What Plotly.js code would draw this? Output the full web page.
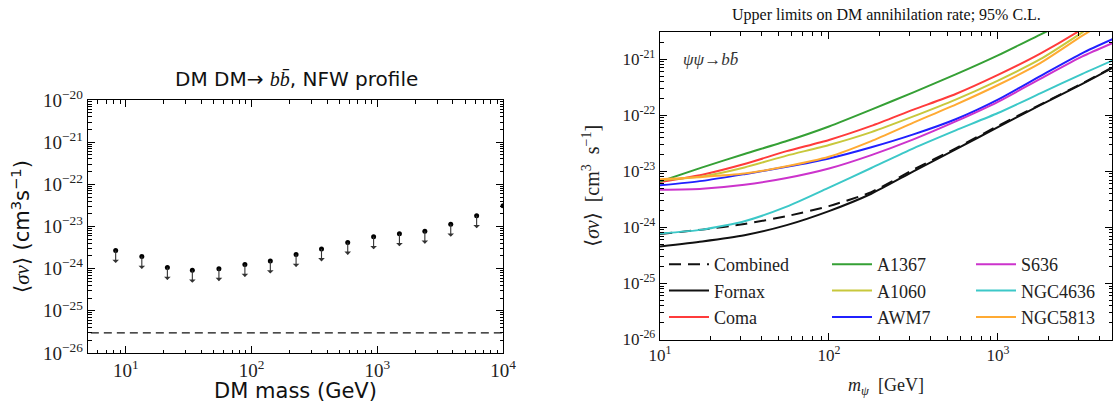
<!DOCTYPE html>
<html>
<head>
<meta charset="utf-8">
<script src="https://cdn.plot.ly/plotly-3.0.1.min.js"></script>
<style>html,body{margin:0;padding:0;background:#fff;}#chart{width:1116px;height:403px;}</style>
</head>
<body>
<div id="chart"></div>
<script>
// ---------- Left panel: upper limits (NFW profile) ----------
const leftMass = [8.3, 13.4, 21.4, 33.8, 55, 88.5, 141, 226, 360, 582, 935, 1500, 2390, 3840, 6170, 10000];
const leftLimit = [2.7e-24, 1.95e-24, 1.06e-24, 9.2e-25, 1.0e-24, 1.25e-24, 1.52e-24, 2.16e-24, 2.94e-24, 4.2e-24, 5.7e-24, 6.7e-24, 7.7e-24, 1.13e-23, 1.79e-23, 3.1e-23];
const thermalRate = 3e-26;
const leftXTicks = [10, 100, 1000, 10000];
const leftXTickText = ['10<sup>1</sup>', '10<sup>2</sup>', '10<sup>3</sup>', '10<sup>4</sup>'];
const leftYTicks = [1e-26, 1e-25, 1e-24, 1e-23, 1e-22, 1e-21, 1e-20];
const leftYTickText = ['10<sup>−26</sup>', '10<sup>−25</sup>', '10<sup>−24</sup>', '10<sup>−23</sup>', '10<sup>−22</sup>', '10<sup>−21</sup>', '10<sup>−20</sup>'];

// ---------- Right panel: per-cluster limits (log10 of <sigma v>) ----------
const mass = [10, 17.8, 31.6, 56.2, 100, 178, 316, 562, 1000, 1780, 3160, 4790];
const logCombined = [-24.12, -24.04, -23.94, -23.80, -23.62, -23.37, -22.97, -22.59, -22.19, -21.81, -21.43, -21.14];
const logFornax   = [-24.34, -24.25, -24.14, -23.96, -23.71, -23.40, -23.00, -22.61, -22.21, -21.82, -21.44, -21.15];
const logComa     = [-23.19, -23.06, -22.87, -22.64, -22.44, -22.19, -21.90, -21.62, -21.28, -20.90, -20.46, -20.10];
const logA1367    = [-23.18, -22.93, -22.69, -22.46, -22.20, -21.90, -21.59, -21.27, -20.93, -20.56, -20.20, -19.95];
const logA1060    = [-23.16, -23.09, -22.93, -22.72, -22.53, -22.30, -22.02, -21.72, -21.38, -21.00, -20.52, -20.15];
const logAWM7     = [-23.25, -23.17, -23.05, -22.92, -22.77, -22.57, -22.34, -22.07, -21.72, -21.30, -20.89, -20.64];
const logS636     = [-23.33, -23.31, -23.24, -23.12, -22.95, -22.71, -22.43, -22.11, -21.76, -21.35, -20.95, -20.71];
const logNGC4636  = [-24.11, -24.04, -23.89, -23.63, -23.29, -22.94, -22.59, -22.27, -21.96, -21.61, -21.26, -21.02];
const logNGC5813  = [-23.14, -23.10, -23.04, -22.91, -22.74, -22.46, -22.13, -21.81, -21.46, -21.07, -20.58, -20.25];
const seriesNames = ['Combined', 'Fornax', 'Coma', 'A1367', 'A1060', 'AWM7', 'S636', 'NGC4636', 'NGC5813'];
const rightXTicks = [10, 100, 1000];
const rightXTickText = ['10<sup>1</sup>', '10<sup>2</sup>', '10<sup>3</sup>'];
const rightYTicks = [1e-26, 1e-25, 1e-24, 1e-23, 1e-22, 1e-21];
const rightYTickText = ['10<sup>-26</sup>', '10<sup>-25</sup>', '10<sup>-24</sup>', '10<sup>-23</sup>', '10<sup>-22</sup>', '10<sup>-21</sup>'];

const W = 1116, H = 403;
const px = v => v / W;
const py = v => 1 - v / H;
const serif = '"Liberation Serif", "DejaVu Serif", serif';
const sans = '"DejaVu Sans", sans-serif';
const toLin = arr => arr.map(v => Math.pow(10, v));

function minorVals(lo, hi) {
  const out = [];
  for (let e = lo; e < hi; e++) for (let k = 2; k <= 9; k++) out.push(k * Math.pow(10, e));
  return out;
}

const traces = [];
// Left panel
traces.push({
  x: [leftMass[0] / 2, leftMass[leftMass.length - 1] * 2], y: [thermalRate, thermalRate],
  xaxis: 'x', yaxis: 'y', mode: 'lines', showlegend: false, hoverinfo: 'skip',
  line: {color: '#111', width: 1.3, dash: '8px,5px'}
});
traces.push({
  x: leftMass, y: leftLimit, xaxis: 'x', yaxis: 'y', mode: 'markers', showlegend: false,
  marker: {color: '#000', size: 5, symbol: 'circle'}
});

// Right panel
const seriesData = [logCombined, logFornax, logComa, logA1367, logA1060, logAWM7, logS636, logNGC4636, logNGC5813];
const seriesColors = ['#111111', '#111111', '#ff3b3b', '#35a035', '#c8c83c', '#2020ff', '#cc33cc', '#3cc8c8', '#ffaa33'];
const seriesLegend = ['legend', 'legend', 'legend', 'legend2', 'legend2', 'legend2', 'legend3', 'legend3', 'legend3'];
seriesNames.forEach((name, i) => {
  traces.push({
    x: mass, y: toLin(seriesData[i]), xaxis: 'x2', yaxis: 'y2', mode: 'lines',
    name: name,
    legend: seriesLegend[i],
    line: {color: seriesColors[i], width: 2, dash: i === 0 ? '12px,7px' : 'solid', shape: 'spline', smoothing: 0.6}
  });
});

const axisBase = {
  type: 'log', showgrid: false, zeroline: false, showline: true, linecolor: '#000', linewidth: 1.3,
  ticks: 'inside', ticklen: 7, tickwidth: 1, tickcolor: '#000', mirror: 'allticks', tickmode: 'array',
  minor: {ticks: 'inside', ticklen: 3.5, tickwidth: 1, tickcolor: '#000', tickmode: 'array'}
};

const annotations = [];
// Upper-limit arrows from each left-panel point
leftMass.forEach((m, i) => {
  if (m >= 10000) return;
  annotations.push({
    xref: 'x', yref: 'y', x: Math.log10(m), y: Math.log10(leftLimit[i]), text: '',
    showarrow: true, ax: 0, ay: 14, axref: 'pixel', ayref: 'pixel', arrowside: 'start',
    arrowhead: 2, arrowsize: 1.1, arrowwidth: 1.1, arrowcolor: '#333', standoff: 0, startstandoff: 0
  });
});
annotations.push({
  xref: 'paper', yref: 'paper', x: px(296), y: py(79), xanchor: 'center', yanchor: 'middle', showarrow: false,
  text: 'DM DM→ <span style="font-family:Liberation Serif"><i>b</i><i>b̄</i></span>, NFW profile',
  font: {family: sans, size: 20, color: '#111'}
});
annotations.push({
  xref: 'paper', yref: 'paper', x: px(886), y: py(15), xanchor: 'center', yanchor: 'middle', showarrow: false,
  text: 'Upper limits on DM annihilation rate; 95% C.L.',
  font: {family: serif, size: 16, color: '#111'}
});
annotations.push({
  xref: 'paper', yref: 'paper', x: px(681), y: py(60), xanchor: 'left', yanchor: 'middle', showarrow: false,
  text: '<i>ψψ</i>→<i>b</i><i>b̄</i>',
  font: {family: serif, size: 17, color: '#333'}
});

const legendFont = {family: serif, size: 18, color: '#222'};
const legendBase = {
  orientation: 'v', xanchor: 'left', yanchor: 'top', bgcolor: 'rgba(0,0,0,0)', borderwidth: 0,
  itemwidth: 40, tracegroupgap: 0
};

const layout = {
  width: W, height: H, margin: {l: 0, r: 0, t: 0, b: 0},
  font: {family: serif, color: '#222'},
  paper_bgcolor: '#fff', plot_bgcolor: '#fff', showlegend: true,
  xaxis: Object.assign({}, axisBase, {
    domain: [px(88), px(503)], anchor: 'y', range: [Math.log10(5), 4],
    tickvals: leftXTicks, ticktext: leftXTickText,
    minor: Object.assign({}, axisBase.minor, {tickvals: minorVals(0, 4).filter(v => v >= 5)}),
    tickfont: {family: serif, size: 19, color: '#222'},
    title: {text: 'DM mass (GeV)', font: {family: sans, size: 21, color: '#111'}, standoff: 4}
  }),
  yaxis: Object.assign({}, axisBase, {
    domain: [py(353), py(100)], anchor: 'x', range: [-26, -20],
    tickvals: leftYTicks, ticktext: leftYTickText,
    minor: Object.assign({}, axisBase.minor, {tickvals: minorVals(-26, -20)}),
    tickfont: {family: serif, size: 19, color: '#222'},
    title: {text: '<span style="font-family:Liberation Serif">⟨<i>σv</i>⟩</span> (cm<sup>3</sup>s<sup>−1</sup>)', font: {family: sans, size: 21, color: '#111'}, standoff: 7}
  }),
  xaxis2: Object.assign({}, axisBase, {
    domain: [px(660), px(1112)], anchor: 'y2', range: [1, 3.675],
    tickvals: rightXTicks, ticktext: rightXTickText,
    minor: Object.assign({}, axisBase.minor, {tickvals: minorVals(1, 4)}),
    tickfont: {family: serif, size: 17, color: '#222'},
    title: {text: '<i>m</i><sub><i>ψ</i></sub>  [GeV]', font: {family: serif, size: 18, color: '#222'}, standoff: 14}
  }),
  yaxis2: Object.assign({}, axisBase, {
    domain: [py(339.5), py(32)], anchor: 'x2', range: [-26, Math.log10(3.06e-21)],
    tickvals: rightYTicks, ticktext: rightYTickText,
    minor: Object.assign({}, axisBase.minor, {tickvals: minorVals(-26, -20)}),
    tickfont: {family: serif, size: 17, color: '#222'},
    title: {text: '⟨<i>σv</i>⟩  [cm<sup>3</sup>  s<sup>−1</sup>]', font: {family: serif, size: 20, color: '#222'}, standoff: 17}
  }),
  legend: Object.assign({}, legendBase, {x: px(664), y: py(246), font: legendFont}),
  legend2: Object.assign({}, legendBase, {x: px(827), y: py(246), font: legendFont}),
  legend3: Object.assign({}, legendBase, {x: px(971), y: py(246), font: legendFont}),
  annotations: annotations
};

Plotly.newPlot('chart', traces, layout, {displayModeBar: false, staticPlot: true});
</script>
</body>
</html>
